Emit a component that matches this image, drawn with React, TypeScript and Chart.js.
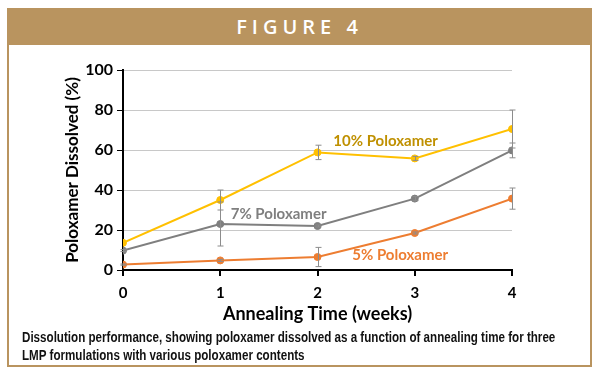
import React, { useEffect, useRef } from "react";
import { Chart, registerables } from "chart.js";
Chart.register(...registerables);

const weeks = [0, 1, 2, 3, 4];
const tenPct = [13.6, 35, 58.8, 55.8, 70.5];
const tenErr = [0, 5, 3.6, 1, 9.5];
const sevenPct = [9.7, 23, 22, 35.7, 59.8];
const sevenErr = [0.5, 11, 0.5, 1, 3.7];
const fivePct = [2.7, 4.8, 6.5, 18.5, 35.7];
const fiveErr = [0.3, 0.5, 4.8, 0.5, 5.3];

const seriesNames = ["10% Poloxamer", "7% Poloxamer", "5% Poloxamer"];
const lineColors = ["#FFC000", "#7F7F7F", "#ED7D31"];
const labelColors = ["#BF9000", "#7F7F7F", "#ED7D31"];
// label anchor positions in data units (week, %)
const labelX = [2.7, 1.6, 2.85];
const labelY = [64.5, 28, 7.5];

const TAN = "#B9945F";
const FONT = "Lato, 'Noto Sans', sans-serif";

const errorBars = {
  id: "errorBars",
  afterDatasetsDraw(chart: any) {
    const { ctx, scales } = chart;
    const xs = scales.x, ys = scales.y;
    const all = [
      [tenPct, tenErr],
      [sevenPct, sevenErr],
      [fivePct, fiveErr],
    ];
    ctx.save();
    ctx.strokeStyle = "#8C8C8C";
    ctx.lineWidth = 1;
    all.forEach(([vals, errs]) => {
      vals.forEach((v: number, i: number) => {
        const e = errs[i];
        if (!e) return;
        const px = Math.round(xs.getPixelForValue(weeks[i])) + 0.5;
        const top = ys.getPixelForValue(v + e);
        const bot = ys.getPixelForValue(v - e);
        ctx.beginPath();
        ctx.moveTo(px, top);
        ctx.lineTo(px, bot);
        ctx.moveTo(px - 3, top);
        ctx.lineTo(px + 3, top);
        ctx.moveTo(px - 3, bot);
        ctx.lineTo(px + 3, bot);
        ctx.stroke();
      });
    });
    ctx.restore();
  },
};

const seriesLabels = {
  id: "seriesLabels",
  afterDraw(chart: any) {
    const { ctx, scales } = chart;
    ctx.save();
    ctx.font = `bold 15px ${FONT}`;
    ctx.textAlign = "center";
    ctx.textBaseline = "middle";
    seriesNames.forEach((n, i) => {
      ctx.fillStyle = labelColors[i];
      ctx.fillText(n, scales.x.getPixelForValue(labelX[i]), scales.y.getPixelForValue(labelY[i]));
    });
    ctx.restore();
  },
};

export default function App() {
  const ref = useRef<HTMLCanvasElement>(null);
  useEffect(() => {
    if (!ref.current) return;
    const mk = (vals: number[], i: number) => ({
      label: seriesNames[i],
      data: weeks.map((w, k) => ({ x: w, y: vals[k] })),
      borderColor: lineColors[i],
      backgroundColor: lineColors[i],
      borderWidth: 2,
      pointRadius: 3.5,
      pointBorderWidth: 1,
      tension: 0,
    });
    const chart = new Chart(ref.current, {
      type: "line",
      data: { datasets: [mk(tenPct, 0), mk(sevenPct, 1), mk(fivePct, 2)] },
      options: {
        animation: false,
        responsive: false,
        layout: { padding: { left: 62, right: 88, top: 70, bottom: 50 } },
        plugins: { legend: { display: false }, tooltip: { enabled: false } },
        scales: {
          x: {
            type: "linear",
            min: 0,
            max: 4,
            afterFit: (s: any) => { s.height = 55; },
            ticks: { stepSize: 1, color: "#000", font: { family: FONT, size: 15, weight: "bold" }, padding: 8 },
            grid: { drawOnChartArea: false, color: "#000", tickColor: "#000", tickLength: 6, lineWidth: 2 },
            border: { color: "#000", width: 2 },
            title: { display: true, text: "Annealing Time (weeks)", color: "#000", font: { family: FONT, size: 18, weight: "bold" }, padding: 0 },
          },
          y: {
            min: 0,
            max: 100,
            afterFit: (s: any) => { s.width = 61; },
            ticks: {
              stepSize: 10,
              color: "#000",
              font: { family: FONT, size: 16, weight: "bold" },
              padding: 4,
              callback: (v: any) => (v % 20 === 0 ? String(v) : ""),
            },
            grid: {
              color: (c: any) => (c.tick && c.tick.value % 20 === 0 && c.tick.value !== 0 ? "#C8C8C8" : "rgba(0,0,0,0)"),
              tickColor: "#000",
              tickLength: 6,
              lineWidth: 1,
            },
            border: { color: "#000", width: 2 },
            title: { display: true, text: "Poloxamer Dissolved (%)", color: "#000", font: { family: FONT, size: 17, weight: "bold" }, padding: 0 },
          },
        },
      } as any,
      plugins: [errorBars, seriesLabels],
    });
    return () => chart.destroy();
  }, []);

  const capLine: React.CSSProperties = { display: "block", whiteSpace: "nowrap", transform: "scaleX(0.83)", transformOrigin: "left center" };

  return (
    <div style={{ position: "absolute", left: 0, top: 0, width: 600, height: 375, background: "#fff" }}>
      <div style={{ position: "absolute", left: 7, top: 8, width: 585, height: 359, border: `2px solid ${TAN}`, boxSizing: "border-box", background: "#fff" }} />
      <div style={{ position: "absolute", left: 7, top: 8, width: 585, height: 37, background: TAN, color: "#fff", fontFamily: "'Open Sans', sans-serif", fontWeight: 600, fontSize: 20, letterSpacing: 5, textAlign: "center", lineHeight: "37px" }}>
        FIGURE 4
      </div>
      <canvas ref={ref} width={600} height={375} style={{ position: "absolute", left: 0, top: 0, width: 600, height: 375 }} />
      <div style={{ position: "absolute", left: 22, top: 328, width: 700, fontFamily: "'Liberation Sans', sans-serif", fontWeight: "bold", fontSize: 14, lineHeight: "18px", color: "#111" }}>
        <span style={capLine}>Dissolution performance, showing poloxamer dissolved as a function of annealing time for three</span>
        <span style={capLine}>LMP formulations with various poloxamer contents</span>
      </div>
    </div>
  );
}
